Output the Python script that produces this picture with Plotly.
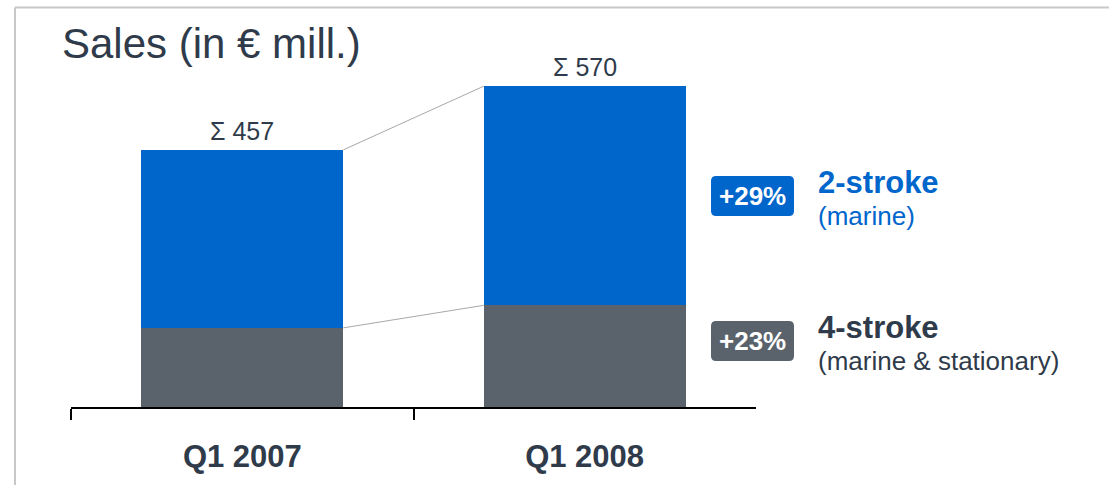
import plotly.graph_objects as go

# ---- data ----
categories = ["Q1 2007", "Q1 2008"]
four_stroke = [141, 181]   # grey, bottom
two_stroke = [316, 389]    # blue, top
growth_labels = ["+29%", "+23%"]
series_names = ["2-stroke", "4-stroke"]
series_sub = ["(marine)", "(marine &amp; stationary)"]
title_text = "Sales (in € mill.)"

W, H = 1109, 485
BLUE = "#0066CC"
GREY = "#5A636C"
DARK = "#2F3B4A"
FONT = "Liberation Sans, Arial, sans-serif"
BAR_W = 0.59

totals = [a + b for a, b in zip(four_stroke, two_stroke)]


def px(x):
    return x / W


def py(y):
    return 1 - y / H


fig = go.Figure()
fig.add_trace(go.Bar(x=categories, y=four_stroke, marker=dict(color=GREY, line=dict(width=0)),
                     width=BAR_W, name=series_names[1], hoverinfo="skip"))
fig.add_trace(go.Bar(x=categories, y=two_stroke, marker=dict(color=BLUE, line=dict(width=0)),
                     width=BAR_W, name=series_names[0], hoverinfo="skip"))

shapes = []
# connecting lines between bars
for a, b in [(totals[0], totals[1]), (four_stroke[0], four_stroke[1])]:
    shapes.append(dict(type="line", xref="x", yref="y", x0=0 + BAR_W / 2, y0=a,
                       x1=1 - BAR_W / 2, y1=b, line=dict(color="#A8A8A8", width=1)))

# frame (top and left)
shapes.append(dict(type="line", xref="paper", yref="paper", x0=px(15), y0=py(7.5), x1=1, y1=py(7.5),
                   line=dict(color="#C8C8C8", width=2)))
shapes.append(dict(type="line", xref="paper", yref="paper", x0=px(15), y0=py(7.5), x1=px(15), y1=0,
                   line=dict(color="#C8C8C8", width=2)))


def rounded_rect(x0, y0, x1, y1, r):
    return (f"M {px(x0 + r)},{py(y0)} L {px(x1 - r)},{py(y0)} "
            f"Q {px(x1)},{py(y0)} {px(x1)},{py(y0 + r)} L {px(x1)},{py(y1 - r)} "
            f"Q {px(x1)},{py(y1)} {px(x1 - r)},{py(y1)} L {px(x0 + r)},{py(y1)} "
            f"Q {px(x0)},{py(y1)} {px(x0)},{py(y1 - r)} L {px(x0)},{py(y0 + r)} "
            f"Q {px(x0)},{py(y0)} {px(x0 + r)},{py(y0)} Z")


badge_y = [196, 341]
badge_cols = [BLUE, GREY]
name_cols = [BLUE, DARK]
annotations = []
for i in range(2):
    cy = badge_y[i]
    shapes.append(dict(type="path", xref="paper", yref="paper",
                       path=rounded_rect(711, cy - 20, 794, cy + 20, 5),
                       fillcolor=badge_cols[i], line=dict(width=0)))
    annotations.append(dict(xref="paper", yref="paper", x=px(752.5), y=py(cy), text=f"<b>{growth_labels[i]}</b>",
                            showarrow=False, xanchor="center", yanchor="middle",
                            font=dict(family=FONT, size=26, color="white")))
    annotations.append(dict(xref="paper", yref="paper", x=px(816), y=py(cy - 14), text=f"<b>{series_names[i]}</b>",
                            showarrow=False, xanchor="left", yanchor="middle",
                            font=dict(family=FONT, size=31, color=name_cols[i])))
    annotations.append(dict(xref="paper", yref="paper", x=px(816), y=py(cy + 20), text=series_sub[i],
                            showarrow=False, xanchor="left", yanchor="middle",
                            font=dict(family=FONT, size=26, color=name_cols[i])))

# totals
for c, t in zip(categories, totals):
    annotations.append(dict(xref="x", yref="y", x=c, y=t, text=f"Σ {t}", showarrow=False,
                            xanchor="center", yanchor="bottom", yshift=3,
                            font=dict(family=FONT, size=25, color=DARK)))

# title
annotations.append(dict(xref="paper", yref="paper", x=px(60), y=py(43), text=title_text, showarrow=False,
                        xanchor="left", yanchor="middle", font=dict(family=FONT, size=42, color=DARK)))

fig.update_layout(
    width=W, height=H, margin=dict(l=0, r=0, t=0, b=0),
    paper_bgcolor="white", plot_bgcolor="white",
    barmode="stack", showlegend=False,
    shapes=shapes, annotations=annotations,
    xaxis=dict(type="category", domain=[px(71.25), px(755.75)], range=[-0.5, 1.5],
               showline=True, linecolor="black", linewidth=1.5,
               tickson="boundaries", ticks="outside", ticklen=11, tickwidth=1.5, tickcolor="black",
               showgrid=False, zeroline=False,
               tickfont=dict(family=FONT, size=31, color=DARK), ticklabelstandoff=21,
               tickprefix="<b>", ticksuffix="</b>", fixedrange=True),
    yaxis=dict(visible=False, domain=[1 - 407.3 / H, 1], range=[0, 407.3 / 0.5633], fixedrange=True),
)

fig.write_html("out.html", config={"displayModeBar": False},
               post_script="document.body.style.margin='0px';document.body.style.overflow='hidden';")
